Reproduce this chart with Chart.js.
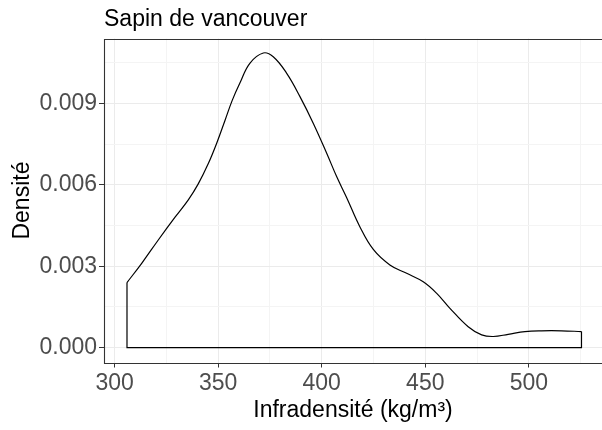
<!DOCTYPE html>
<html>
<head>
<meta charset="utf-8">
<script src="https://cdn.jsdelivr.net/npm/chart.js@4.4.1/dist/chart.umd.min.js"></script>
<style>
  html, body { margin: 0; padding: 0; background: #ffffff; }
  #wrap { width: 602px; height: 430px; position: relative; }
</style>
</head>
<body>
<div id="wrap"><canvas id="c" width="602" height="430"></canvas></div>
<script>
// ---- data (kernel density estimate) ----
const chartTitle = 'Sapin de vancouver';
const xTitle = 'Infradensité (kg/m³)';
const yTitle = 'Densité';

const densityX = [306.0, 313.1, 321.1, 329.2, 335.6, 340.4, 345.2, 349.3, 353.3, 356.8,
                  360.5, 365.3, 371.8, 376.6, 383.1, 389.5, 395.9, 402.4, 407.2, 412.0,
                  418.4, 424.9, 432.9, 441.0, 449.0, 455.4, 461.9, 470.7, 477.2, 482.8,
                  490.0, 498.1, 506.1, 515.8, 525.4];
const densityY = [0.00240, 0.00311, 0.00397, 0.00481, 0.00545, 0.00604, 0.00678, 0.00754, 0.00838, 0.00912,
                  0.00976, 0.01049, 0.01087, 0.01073, 0.01012, 0.00926, 0.00828, 0.00717, 0.00631, 0.00554,
                  0.00446, 0.00362, 0.00305, 0.00274, 0.00243, 0.00201, 0.00145, 0.00077, 0.00047, 0.00041,
                  0.00049, 0.00059, 0.00062, 0.00062, 0.00059];

const xMajorTicks = [300, 350, 400, 450, 500];
const xMinorTicks = [325, 375, 425, 475, 525];
const yMajorTicks = [0, 0.003, 0.006, 0.009];
const yMinorTicks = [0.0015, 0.0045, 0.0075, 0.0105];

// ---- build datasets from the arrays ----
const curvePts = densityX.map((x, i) => ({ x: x, y: densityY[i] }));
const n = densityX.length;
const closingPts = [
  { x: densityX[0], y: densityY[0] },
  { x: densityX[0], y: 0 },
  { x: densityX[n - 1], y: 0 },
  { x: densityX[n - 1], y: densityY[n - 1] }
];

const FONT = "'Liberation Sans', Arial, sans-serif";
const isIn = (arr, v) => arr.some(a => Math.abs(a - v) < 1e-9);

const panelBorder = {
  id: 'panelBorder',
  afterLayout(chart) {
    if (chart.titleBlock) {
      chart.titleBlock.left = chart.chartArea.left;
    }
  },
  afterDraw(chart) {
    const { ctx, chartArea: a } = chart;
    ctx.save();
    ctx.strokeStyle = '#333333';
    ctx.lineWidth = 1.1;
    ctx.beginPath();
    ctx.moveTo(a.right + 2, Math.round(a.top) + 0.5);
    ctx.lineTo(Math.round(a.left) + 0.5, Math.round(a.top) + 0.5);
    ctx.lineTo(Math.round(a.left) + 0.5, Math.round(a.bottom) + 0.5);
    ctx.lineTo(a.right + 2, Math.round(a.bottom) + 0.5);
    ctx.stroke();
    ctx.restore();
  }
};

new Chart(document.getElementById('c'), {
  type: 'scatter',
  data: {
    datasets: [
      {
        data: curvePts,
        showLine: true,
        borderColor: '#000000',
        borderWidth: 1.2,
        pointRadius: 0,
        tension: 0.4,
        fill: false
      },
      {
        data: closingPts,
        showLine: true,
        borderColor: '#000000',
        borderWidth: 1.2,
        pointRadius: 0,
        tension: 0,
        fill: false
      }
    ]
  },
  options: {
    responsive: false,
    animation: false,
    devicePixelRatio: 1,
    layout: { padding: { left: 0, right: 0, top: 0, bottom: 0 } },
    plugins: {
      legend: { display: false },
      tooltip: { enabled: false },
      title: {
        display: true,
        text: chartTitle,
        align: 'start',
        color: '#000000',
        font: { family: FONT, size: 23, weight: 'normal' },
        padding: { top: 6, bottom: 5 }
      }
    },
    scales: {
      x: {
        type: 'linear',
        min: 294.9,
        max: 535.3,
        afterBuildTicks(scale) {
          scale.ticks = xMajorTicks.concat(xMinorTicks).sort((a, b) => a - b).map(v => ({ value: v }));
        },
        afterFit(scale) { scale.height = 67.5; },
        border: { display: false },
        grid: {
          drawOnChartArea: true,
          drawTicks: true,
          tickLength: 5,
          color: ctx => isIn(xMajorTicks, ctx.tick.value) ? '#EBEBEB' : '#F4F4F4',
          tickColor: ctx => isIn(xMajorTicks, ctx.tick.value) ? '#333333' : 'rgba(0,0,0,0)',
          lineWidth: 1
        },
        ticks: {
          autoSkip: false,
          maxRotation: 0,
          padding: 2,
          color: '#4D4D4D',
          font: { family: FONT, size: 23 },
          callback: v => isIn(xMajorTicks, v) ? String(v) : ''
        },
        title: {
          display: true,
          text: xTitle,
          color: '#000000',
          font: { family: FONT, size: 23 },
          padding: { top: 0, bottom: 6 }
        }
      },
      y: {
        type: 'linear',
        min: -0.00055,
        max: 0.0114,
        afterBuildTicks(scale) {
          scale.ticks = yMajorTicks.concat(yMinorTicks).sort((a, b) => a - b).map(v => ({ value: v }));
        },
        afterFit(scale) { scale.width = 104; },
        border: { display: false },
        grid: {
          drawOnChartArea: true,
          drawTicks: true,
          tickLength: 5,
          color: ctx => isIn(yMajorTicks, ctx.tick.value) ? '#EBEBEB' : '#F4F4F4',
          tickColor: ctx => isIn(yMajorTicks, ctx.tick.value) ? '#333333' : 'rgba(0,0,0,0)',
          lineWidth: 1
        },
        ticks: {
          autoSkip: false,
          padding: 2,
          color: '#4D4D4D',
          font: { family: FONT, size: 23 },
          callback: v => isIn(yMajorTicks, v) ? v.toFixed(3) : ''
        },
        title: {
          display: true,
          text: yTitle,
          color: '#000000',
          font: { family: FONT, size: 23 },
          padding: { top: 9, bottom: 0 }
        }
      }
    }
  },
  plugins: [panelBorder]
});
</script>
</body>
</html>
